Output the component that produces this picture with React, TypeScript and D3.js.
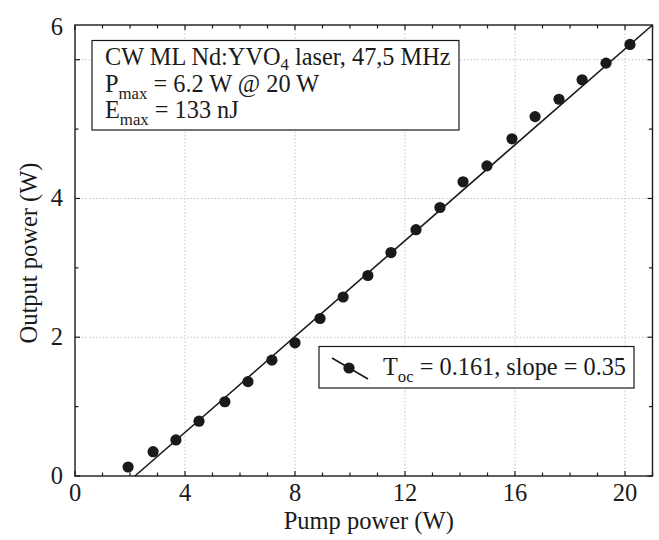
import React from "react";
import * as d3 from "d3";

const pumpPower = [1.93, 2.84, 3.67, 4.51, 5.45, 6.29, 7.16, 8.0, 8.91, 9.75, 10.65, 11.49, 12.4, 13.27, 14.11, 14.98, 15.89, 16.73, 17.6, 18.44, 19.31, 20.18];
const outputPower = [0.13, 0.35, 0.52, 0.79, 1.07, 1.36, 1.67, 1.92, 2.27, 2.58, 2.89, 3.22, 3.55, 3.87, 4.24, 4.47, 4.86, 5.18, 5.43, 5.71, 5.95, 6.22];
const fitX = [2.18, 21];
const fitY = [0, 6.5];
const xTickLabels = [0, 4, 8, 12, 16, 20];
const yTickLabels = [0, 2, 4];
const xGrid = [4, 8, 12, 16, 20];
const yGrid = [2, 4, 6];
const xMinor = d3.range(0, 22, 1);
const yMinor = d3.range(0, 7, 1);

const FONT = "'Liberation Serif', 'Times New Roman', serif";

export default function App() {
  const W = 659, H = 540;
  const left = 75, right = 652.5, top = 25, bottom = 476;
  const x = d3.scaleLinear().domain([0, 21]).range([left, right]);
  const y = d3.scaleLinear().domain([0, 6.5]).range([bottom, top]);
  const line = d3.line<number>().x((d) => x(fitX[d])).y((d) => y(fitY[d]));
  const ink = "#1a1a1a";
  const tickFont = 24.5;
  const legFont = 24.3;
  const subFont = 16.8;

  return (
    <svg width={W} height={H} style={{ position: "absolute", left: 0, top: 0, background: "#fff" }} fontFamily={FONT}>
      <rect x={0} y={0} width={W} height={H} fill="#fff" />
      {/* grid */}
      {xGrid.map((v) => (
        <line key={"gx" + v} x1={x(v)} x2={x(v)} y1={bottom} y2={top} stroke="#c4c4c4" strokeWidth={1} strokeDasharray="1.5,2" />
      ))}
      {yGrid.map((v) => (
        <line key={"gy" + v} x1={left} x2={right} y1={y(v)} y2={y(v)} stroke="#c4c4c4" strokeWidth={1} strokeDasharray="1.5,2" />
      ))}
      {/* ticks */}
      {xMinor.map((v) => {
        const len = v % 4 === 0 ? 5 : 3.5;
        return (
          <g key={"tx" + v}>
            <line x1={x(v)} x2={x(v)} y1={bottom} y2={bottom - len} stroke={ink} strokeWidth={1.2} />
            <line x1={x(v)} x2={x(v)} y1={top} y2={top + len} stroke={ink} strokeWidth={1.2} />
          </g>
        );
      })}
      {yMinor.map((v) => {
        const len = v % 2 === 0 ? 5 : 3.5;
        return (
          <g key={"ty" + v}>
            <line x1={left} x2={left + len} y1={y(v)} y2={y(v)} stroke={ink} strokeWidth={1.2} />
            <line x1={right} x2={right - len} y1={y(v)} y2={y(v)} stroke={ink} strokeWidth={1.2} />
          </g>
        );
      })}
      {/* frame */}
      <rect x={left} y={top} width={right - left} height={bottom - top} fill="none" stroke={ink} strokeWidth={1.4} />
      {/* tick labels */}
      {xTickLabels.map((v) => (
        <text key={"lx" + v} x={x(v)} y={bottom + 25} textAnchor="middle" fontSize={tickFont} fill={ink}>{v}</text>
      ))}
      {yTickLabels.map((v) => (
        <text key={"ly" + v} x={63} y={y(v) + 8} textAnchor="end" fontSize={tickFont} fill={ink}>{v}</text>
      ))}
      <text x={63} y={y(6.5) + 10} textAnchor="end" fontSize={tickFont} fill={ink}>6</text>
      {/* axis labels */}
      <text x={(left + right) / 2 + 5} y={529} textAnchor="middle" fontSize={tickFont} fill={ink}>Pump power (W)</text>
      <text transform={`translate(37, 253) rotate(-90)`} textAnchor="middle" fontSize={tickFont} fill={ink}>Output power (W)</text>
      {/* fit line */}
      <path d={line([0, 1]) || ""} fill="none" stroke={ink} strokeWidth={1.6} />
      {/* data points */}
      {pumpPower.map((px, i) => (
        <circle key={"p" + i} cx={x(px)} cy={y(outputPower[i])} r={5.6} fill={ink} />
      ))}
      {/* info box */}
      <rect x={92} y={40.5} width={367} height={89.5} fill="#fff" stroke={ink} strokeWidth={1.2} />
      <text x={105} y={65} fontSize={legFont} fill={ink}>
        CW ML Nd:YVO<tspan fontSize={subFont} dy={4.5}>4</tspan><tspan dy={-4.5}> laser, 47,5 MHz</tspan>
      </text>
      <text x={105} y={91.5} fontSize={legFont} fill={ink}>
        P<tspan fontSize={subFont} dy={7}>max</tspan><tspan dy={-7}> = 6.2 W @ 20 W</tspan>
      </text>
      <text x={105} y={117.5} fontSize={legFont} fill={ink}>
        E<tspan fontSize={subFont} dy={7}>max</tspan><tspan dy={-7}> = 133 nJ</tspan>
      </text>
      {/* legend */}
      <rect x={319} y={346.5} width={315} height={41.5} fill="#fff" stroke={ink} strokeWidth={1.2} />
      <line x1={332} y1={358} x2={368} y2={379} stroke={ink} strokeWidth={1.6} />
      <circle cx={349} cy={368} r={5.6} fill={ink} />
      <text x={383} y={375} fontSize={legFont} fill={ink}>
        T<tspan fontSize={subFont} dy={7}>oc</tspan><tspan dy={-7}> = 0.161, slope = 0.35</tspan>
      </text>
    </svg>
  );
}
